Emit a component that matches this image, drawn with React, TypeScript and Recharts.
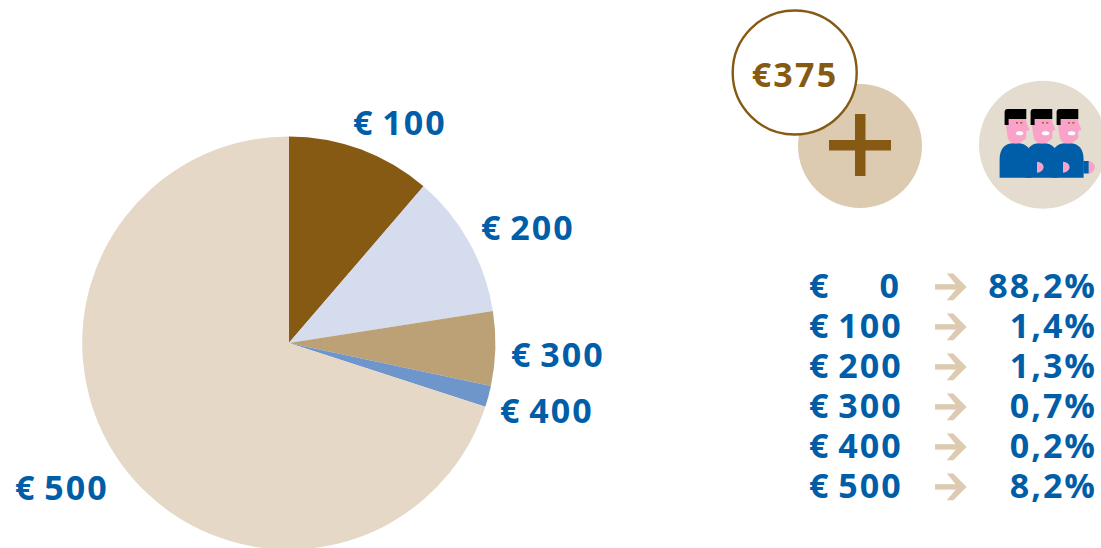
import React from "react";
import { PieChart, Pie, Cell } from "recharts";

const sliceLabels = ["€ 100", "€ 200", "€ 300", "€ 400", "€ 500"];
const sliceValues = [1.334, 1.323, 0.686, 0.197, 8.26];
const sliceColors = ["#875a14", "#d5dced", "#bda176", "#6f96ca", "#e5d8c7"];
const labelOffsets = [[111, -220], [239, -115], [269, 12], [258, 68], [-227, 145]];
const tableLabels = ["€", "€ 100", "€ 200", "€ 300", "€ 400", "€ 500"];
const tableShares = ["88,2%", "1,4%", "1,3%", "0,7%", "0,2%", "8,2%"];
const priceLabel = "€375";

const BLUE = "#005ea8";
const BROWN = "#875a14";
const TAN = "#dccbb1";
const PINK = "#f9a3cb";
const FONT = "'Open Sans', sans-serif";
const SPACING = 2;
const WORD = -3;
const data = sliceLabels.map((name, i) => ({ name, value: sliceValues[i] }));

const renderLabel = (p: any) => {
  const [dx, dy] = labelOffsets[p.index];
  return (
    <text x={p.cx + dx} y={p.cy + dy - 1} textAnchor="middle" dominantBaseline="central"
      fontFamily={FONT} fontWeight={700} fontSize={34} letterSpacing={SPACING} wordSpacing={WORD} fill={BLUE}>
      {sliceLabels[p.index]}
    </text>
  );
};

const Person = ({ i }: { i: number }) => (
  <g transform={`translate(${999.6 + 26 * i},0)`}>
    <path d="M0 177.7 V160 Q0 143.5 14 143.3 H18 Q32 143.5 32 160 V177.7 Z" fill={BLUE} />
    <path d="M6.3 119 H26.7 V122 L30 130 L26.7 131 V138 Q22 143.5 16 143.5 Q8 143.5 7.5 134 L6.3 125 Z" fill={PINK} />
    <path d="M5 112 Q5 109 8 109 H26.7 V119 H9 V125 H5 Z" fill="#000" />
    <ellipse cx="20" cy="133.3" rx="3.7" ry="2" fill="#fff" />
    <rect x="16.4" y="122" width="2" height="1.6" fill="#a5652a" />
    <rect x="20.7" y="122" width="2" height="1.6" fill="#a5652a" />
  </g>
);

const Arrow = ({ y }: { y: number }) => (
  <g fill={TAN}>
    <rect x={935} y={y - 2.7} width={26} height={5.4} />
    <path d={`M946.7 ${y - 13.3} H953.3 L966.7 ${y} L953.3 ${y + 13.3} H946.7 L958 ${y} Z`} />
  </g>
);

export default function App() {
  return (
    <div style={{ position: "absolute", left: 0, top: 0, width: 1101, height: 548, overflow: "hidden", background: "#fff" }}>
      <PieChart width={1101} height={548} margin={{ top: 0, right: 0, bottom: 0, left: 0 }}>
        <Pie data={data} dataKey="value" cx={288.8} cy={343} outerRadius={206.6} startAngle={90} endAngle={-270}
          stroke="none" isAnimationActive={false} label={renderLabel} labelLine={false}>
          {data.map((d, i) => <Cell key={d.name} fill={sliceColors[i]} />)}
        </Pie>
      </PieChart>
      <svg width={1101} height={548} style={{ position: "absolute", left: 0, top: 0 }}>
        <circle cx={860} cy={146} r={62} fill={TAN} />
        <rect x={829} y={140} width={62} height={10.5} fill={BROWN} />
        <rect x={855} y={114} width={10.5} height={62} fill={BROWN} />
        <circle cx={794.7} cy={72.5} r={62} fill="#fff" stroke={BROWN} strokeWidth={2.4} />
        <text x={795} y={74} textAnchor="middle" dominantBaseline="central" fontFamily={FONT} fontWeight={700} fontSize={34} letterSpacing={2.2} fill={BROWN}>{priceLabel}</text>
        <circle cx={1043} cy={144.7} r={64} fill="#e4dccf" />
        <Person i={0} />
        <Person i={1} />
        <Person i={2} />
        <rect x={1083.3} y={161} width={5.5} height={12.5} fill={BLUE} />
        <path d="M1088.8 161 A7 6.3 0 0 1 1088.8 173.5 Z" fill={PINK} />
        <path d="M1037 161.7 A6.6 5.5 0 0 1 1037 172.7 Z" fill={PINK} />
        <path d="M1063 161.7 A6.6 5.5 0 0 1 1063 172.7 Z" fill={PINK} />
        {tableLabels.map((t, i) => {
          const y = 285.4 + i * 40;
          return (
            <g key={t} fontFamily={FONT} fontWeight={700} fontSize={34} letterSpacing={SPACING} wordSpacing={WORD} fill={BLUE}>
              <text x={809} y={y} dominantBaseline="central">{t}</text>
              {i === 0 && <text x={901} y={y} textAnchor="end" dominantBaseline="central">0</text>}
              <Arrow y={y + 1.5} />
              <text x={1097} y={y} textAnchor="end" dominantBaseline="central">{tableShares[i]}</text>
            </g>
          );
        })}
      </svg>
    </div>
  );
}
